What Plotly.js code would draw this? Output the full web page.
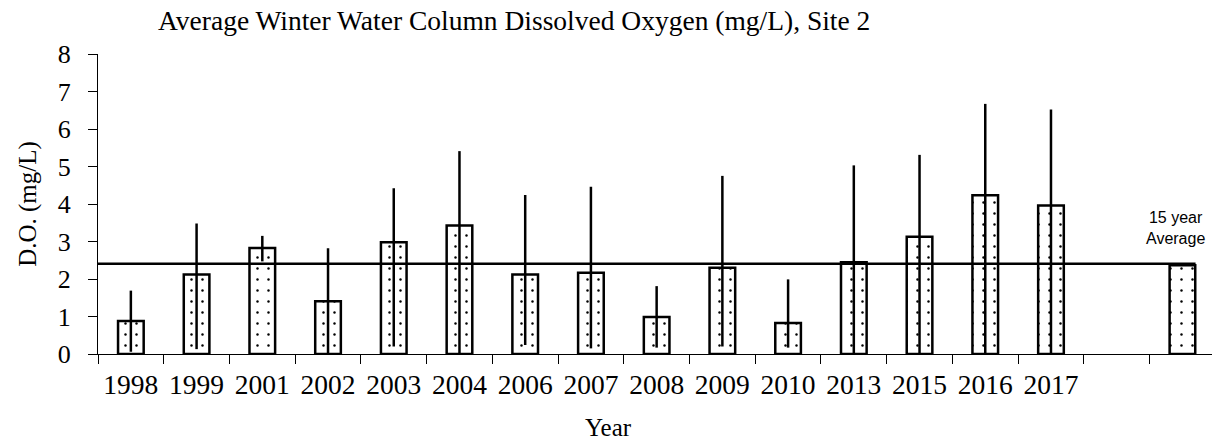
<!DOCTYPE html>
<html>
<head>
<meta charset="utf-8">
<script src="https://cdn.plot.ly/plotly-3.0.1.min.js"></script>
<style>
  html, body { margin: 0; padding: 0; background: #fff; }
  #chart { width: 1212px; height: 446px; }
</style>
</head>
<body>
<div id="chart"></div>
<script>
// winter D.O. means per year, with the range lines
const years = ["1998", "1999", "2001", "2002", "2003", "2004", "2006", "2007",
  "2008", "2009", "2010", "2013", "2015", "2016", "2017"];
const meanDO = [0.88, 2.12, 2.83, 1.41, 2.98, 3.43, 2.12, 2.17, 0.99, 2.30, 0.83, 2.45, 3.13, 4.23, 3.96];
const errUp = [0.81, 1.36, 0.32, 1.41, 1.44, 1.98, 2.12, 2.29, 0.82, 2.45, 1.16, 2.58, 2.18, 2.44, 2.56];
const errDown = [0.82, 1.99, 0.36, 1.41, 2.78, 3.43, 1.88, 2.02, 0.82, 2.10, 0.66, 2.45, 3.13, 4.23, 3.96];

const gapCat = " ";
const avgCat = "  ";
const avgBar = 2.37;
const avgLine = 2.41;

const allCats = [...years, gapCat, avgCat];

const serif = "Liberation Serif, Times New Roman, serif";

const barStyle = {
  color: "#ffffff",
  line: { color: "#000000", width: 2.5 },
  pattern: { shape: ".", fgcolor: "#000000", bgcolor: "#ffffff", size: 11, solidity: 0.04 },
};

let yearTrace = {
  type: "bar",
  x: years,
  y: meanDO,
  width: 0.39,
  marker: barStyle,
  error_y: {
    type: "data",
    symmetric: false,
    array: errUp,
    arrayminus: errDown,
    color: "#000000",
    thickness: 2.5,
    width: 0,
  },
  hoverinfo: "x+y",
};

let avgTrace = {
  type: "bar",
  x: [avgCat],
  y: [avgBar],
  width: 0.39,
  marker: barStyle,
  hoverinfo: "y",
};

let layout = {
  width: 1212,
  height: 446,
  margin: { l: 98, r: 0, t: 54, b: 92 },
  paper_bgcolor: "#ffffff",
  plot_bgcolor: "#ffffff",
  showlegend: false,
  bargap: 0,
  font: { family: serif, color: "#000000" },
  title: {
    text: "Average Winter Water Column Dissolved Oxygen (mg/L), Site 2",
    font: { family: serif, size: 27.5, color: "#000000" },
    xref: "container",
    x: 158 / 1212,
    xanchor: "left",
    yref: "container",
    y: 1 - 20 / 446,
    yanchor: "middle",
  },
  xaxis: {
    type: "category",
    categoryorder: "array",
    categoryarray: allCats,
    range: [-0.5, 16.45],
    tickson: "boundaries",
    ticks: "outside",
    ticklen: 9,
    tickcolor: "#000000",
    showline: true,
    linecolor: "#000000",
    linewidth: 1,
    showgrid: false,
    zeroline: false,
    ticklabelstandoff: 6,
    tickfont: { family: serif, size: 27.5, color: "#000000" },
    fixedrange: true,
  },
  yaxis: {
    range: [0, 8],
    dtick: 1,
    ticks: "outside",
    ticklen: 9,
    tickcolor: "#000000",
    showline: true,
    linecolor: "#000000",
    linewidth: 1,
    showgrid: false,
    zeroline: false,
    ticklabelstandoff: 12,
    tickfont: { family: serif, size: 26, color: "#000000" },
    title: { text: "D.O. (mg/L)", font: { family: serif, size: 25, color: "#000000" }, standoff: 14 },
    fixedrange: true,
  },
  shapes: [
    {
      type: "line",
      xref: "x",
      yref: "y",
      x0: -0.5,
      x1: 16.2,
      y0: avgLine,
      y1: avgLine,
      line: { color: "#000000", width: 2.5 },
      layer: "above",
    },
  ],
  annotations: [
    {
      text: "15 year<br>Average",
      xref: "paper",
      yref: "paper",
      x: (1175 - 98) / 1114,
      y: (354 - 228) / 300,
      xanchor: "center",
      yanchor: "middle",
      showarrow: false,
      font: { family: "Liberation Sans, Arial, sans-serif", size: 16, color: "#000000" },
    },
    {
      text: "Year",
      xref: "paper",
      yref: "paper",
      x: (608 - 98) / 1114,
      y: -(427 - 354) / 300,
      xanchor: "center",
      yanchor: "middle",
      showarrow: false,
      font: { family: serif, size: 25, color: "#000000" },
    },
  ],
};

Plotly.newPlot("chart", [yearTrace, avgTrace], layout, { staticPlot: true });
</script>
</body>
</html>
